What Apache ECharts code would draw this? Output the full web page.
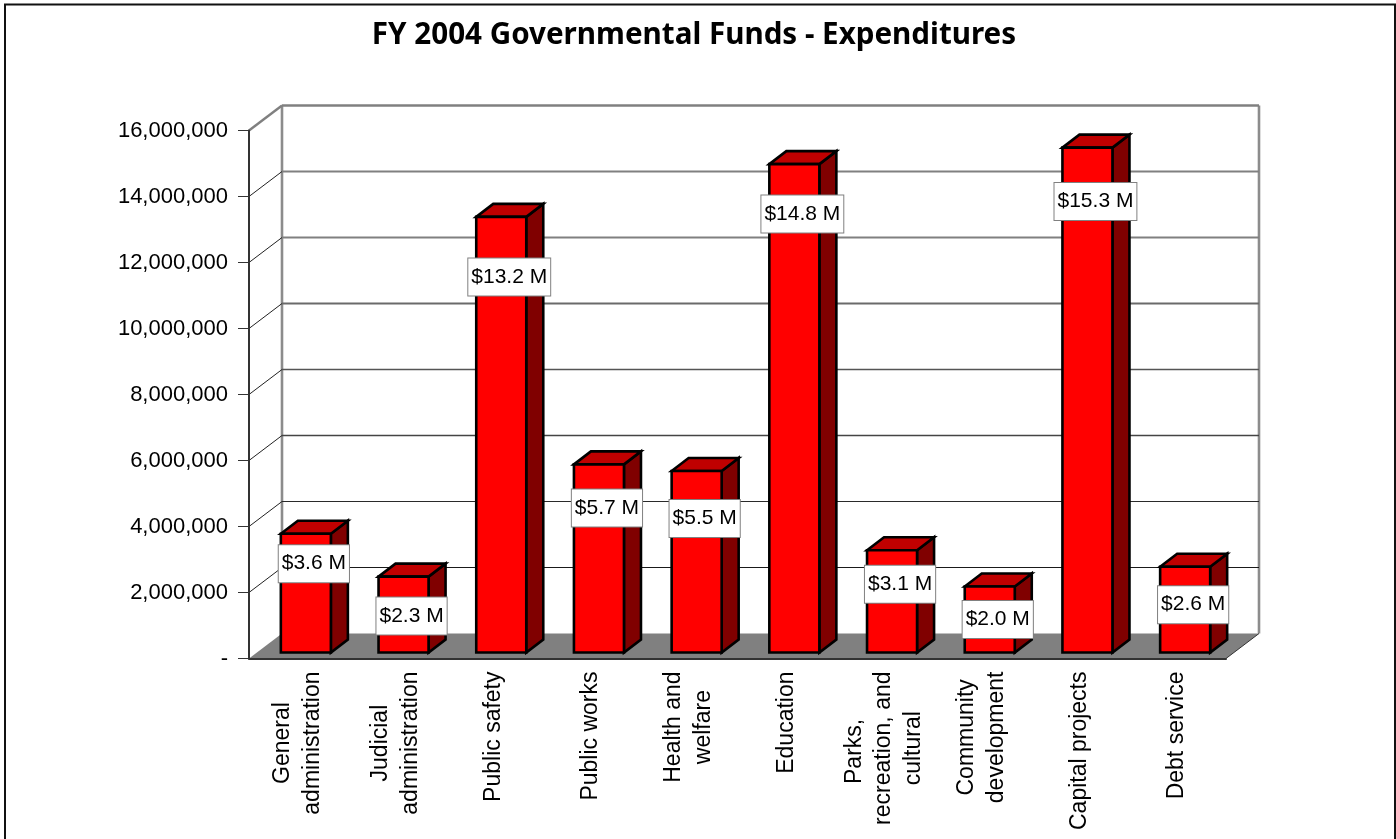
<!DOCTYPE html>
<html>
<head>
<meta charset="utf-8">
<title>FY 2004 Governmental Funds - Expenditures</title>
<style>
  html, body { margin: 0; padding: 0; background: #fff; }
  #chart { width: 1396px; height: 839px; }
</style>
<script src="https://cdn.jsdelivr.net/npm/echarts@6/dist/echarts.min.js"></script>
</head>
<body>
<div id="chart"></div>
<script>
const titleText = 'FY 2004 Governmental Funds - Expenditures';
const categories = [
  ['General', 'administration'],
  ['Judicial', 'administration'],
  ['Public safety'],
  ['Public works'],
  ['Health and', 'welfare'],
  ['Education'],
  ['Parks, ', 'recreation, and', 'cultural'],
  ['Community', 'development'],
  ['Capital projects'],
  ['Debt service']
];
const expenditures = [3600000, 2300000, 13200000, 5700000, 5500000, 14800000, 3100000, 2000000, 15300000, 2600000];
const axisTicks = [0, 2000000, 4000000, 6000000, 8000000, 10000000, 12000000, 14000000, 16000000];

// Pixel drop of each value callout below the top edge of its bar.
const calloutDrops = [30, 39.5, 60, 43.5, 47.5, 50, 34, 33, 54, 38];

// Oblique projection of the box: full depth, bar inset from the front plane, bar depth.
const DEPTH = { x: 33, y: 25 };
const INSET = { x: 8, y: 6 };
const BAR_DEPTH = { x: 17, y: 13 };
const BAR_WIDTH_RATIO = 0.512;

// Wall rules get heavier and lighter toward the top of the box.
const wallRuleStyles = {
  2000000: ['#1a1a1a', 1.2], 4000000: ['#2a2a2a', 1.2], 6000000: ['#444', 1.4], 8000000: ['#555', 1.6],
  10000000: ['#6a6a6a', 1.8], 12000000: ['#808080', 2], 14000000: ['#808080', 2], 16000000: ['#808080', 2.6]
};

const poly = (points, fill, stroke, lineWidth) => ({
  type: 'polygon',
  shape: { points },
  style: { fill, stroke, lineWidth, lineJoin: 'miter' }
});
const seg = (x1, y1, x2, y2, stroke, lineWidth) => ({
  type: 'line',
  shape: { x1, y1, x2, y2 },
  style: { stroke, lineWidth }
});

// Back wall, side wall and floor of the box.
function renderBox(params, api) {
  const rect = params.coordSys;
  const left = rect.x, right = rect.x + rect.width;
  const floorY = api.coord([0, 0])[1];
  const topY = api.coord([0, axisTicks[axisTicks.length - 1]])[1];
  const bx = left + DEPTH.x, brx = right + DEPTH.x;
  return {
    type: 'group',
    children: [
      poly([[left, floorY], [bx, floorY - DEPTH.y], [brx, floorY - DEPTH.y], [right, floorY]], '#808080', 'none', 0),
      seg(bx, topY - DEPTH.y, bx, floorY - DEPTH.y, '#8c8c8c', 2.6),
      seg(brx, topY - DEPTH.y, brx, floorY - DEPTH.y, '#8c8c8c', 2.6),
      seg(right, floorY, brx, floorY - DEPTH.y, '#333', 1)
    ]
  };
}

// One rule per axis tick: the slanted part on the side wall, then across the back wall.
function renderRule(params, api) {
  const value = api.value(1);
  if (value === 0) return null;
  const rect = params.coordSys;
  const y = api.coord([0, value])[1];
  const left = rect.x, brx = rect.x + rect.width + DEPTH.x;
  const [stroke, width] = wallRuleStyles[value];
  const isTop = value === axisTicks[axisTicks.length - 1];
  return {
    type: 'group',
    children: [
      seg(left, y, left + DEPTH.x, y - DEPTH.y, isTop ? '#808080' : '#222', isTop ? 2.4 : 1),
      seg(left + DEPTH.x, y - DEPTH.y, brx, y - DEPTH.y, stroke, width)
    ]
  };
}

function renderBar(params, api) {
  const center = api.coord([api.value(0), 0])[0];
  const width = api.size([1, 0])[0] * BAR_WIDTH_RATIO;
  const x0 = center + INSET.x - width / 2;
  const x1 = x0 + width;
  const yBase = api.coord([0, 0])[1] - INSET.y;
  const yTop = api.coord([0, api.value(1)])[1] - INSET.y;
  const dx = BAR_DEPTH.x, dy = BAR_DEPTH.y;
  return {
    type: 'group',
    children: [
      poly([[x1, yTop], [x1 + dx, yTop - dy], [x1 + dx, yBase - dy], [x1, yBase]], '#800000', '#000', 2.6),
      poly([[x0, yTop], [x0 + dx, yTop - dy], [x1 + dx, yTop - dy], [x1, yTop]], '#C00000', '#000', 2.6),
      poly([[x0, yTop], [x1, yTop], [x1, yBase], [x0, yBase]], '#FF0000', '#000', 2.6)
    ]
  };
}

function renderCallout(params, api) {
  const index = api.value(0);
  const value = api.value(1);
  const center = api.coord([index, 0])[0];
  const yTop = api.coord([0, value])[1] - INSET.y;
  return {
    type: 'text',
    style: {
      x: center + INSET.x + BAR_DEPTH.x / 2 - 0.5,
      y: yTop + calloutDrops[index],
      text: '$' + (value / 1000000).toFixed(1) + ' M',
      align: 'center',
      verticalAlign: 'middle',
      font: '21px "Liberation Sans", Arial, sans-serif',
      fill: '#000',
      backgroundColor: '#fff',
      borderColor: '#808080',
      borderWidth: 1,
      padding: [8, 3, 8, 3]
    }
  };
}

const chart = echarts.init(document.getElementById('chart'), null, { renderer: 'canvas' });
chart.setOption({
  animation: false,
  backgroundColor: '#fff',
  textStyle: { fontFamily: '"Liberation Sans", Arial, sans-serif' },
  title: {
    text: titleText,
    left: 689,
    top: 16,
    textAlign: 'center',
    textStyle: { fontFamily: '"Noto Sans", sans-serif', fontWeight: 'bold', fontSize: 29.6, color: '#000' }
  },
  graphic: [{
    type: 'rect',
    shape: { x: 5, y: 4.5, width: 1390, height: 900 },
    style: { fill: 'none', stroke: '#111', lineWidth: 2 },
    silent: true
  }],
  grid: { left: 249, top: 130.5, width: 977, height: 528, containLabel: false },
  xAxis: {
    type: 'category',
    data: categories.map((lines) => lines.join('\n')),
    z: 3,
    axisLine: { lineStyle: { color: '#333', width: 2 } },
    axisTick: { length: 10, lineStyle: { color: '#333', width: 1 } },
    axisLabel: {
      interval: 0,
      rotate: 90,
      margin: 13,
      align: 'right',
      verticalAlign: 'middle',
      color: '#000',
      lineHeight: 29.5,
      fontSize: 23,
      formatter: (name) => name.split('\n').map((line) => '{c|' + line + '}').join('\n'),
      rich: { c: { align: 'center', fontSize: 23, lineHeight: 29.5, color: '#000' } }
    }
  },
  yAxis: {
    type: 'value',
    min: 0,
    max: 16000000,
    interval: 2000000,
    z: 3,
    splitLine: { show: false },
    axisLine: { show: true, lineStyle: { color: '#333', width: 2 } },
    axisTick: { show: true, length: 11, lineStyle: { color: '#333', width: 1 } },
    axisLabel: {
      margin: 21,
      fontSize: 22,
      padding: [2, 0, 0, 0],
      color: '#000',
      formatter: (v) => (v === 0 ? '-' : v.toLocaleString('en-US'))
    }
  },
  series: [
    {
      type: 'custom', name: 'box', coordinateSystem: 'cartesian2d', z: 1, silent: true,
      renderItem: renderBox, data: [[0, 0]], encode: { x: 0, y: 1 }
    },
    {
      type: 'custom', name: 'rules', coordinateSystem: 'cartesian2d', z: 1, silent: true,
      renderItem: renderRule, data: axisTicks.map((t) => [0, t]), encode: { x: 0, y: 1 }
    },
    {
      type: 'custom', name: 'Expenditures', coordinateSystem: 'cartesian2d', z: 4,
      renderItem: renderBar, data: expenditures.map((v, i) => [i, v]), encode: { x: 0, y: 1 }
    },
    {
      type: 'custom', name: 'callouts', coordinateSystem: 'cartesian2d', z: 5,
      renderItem: renderCallout, data: expenditures.map((v, i) => [i, v]), encode: { x: 0, y: 1 }
    }
  ]
});
</script>
</body>
</html>
